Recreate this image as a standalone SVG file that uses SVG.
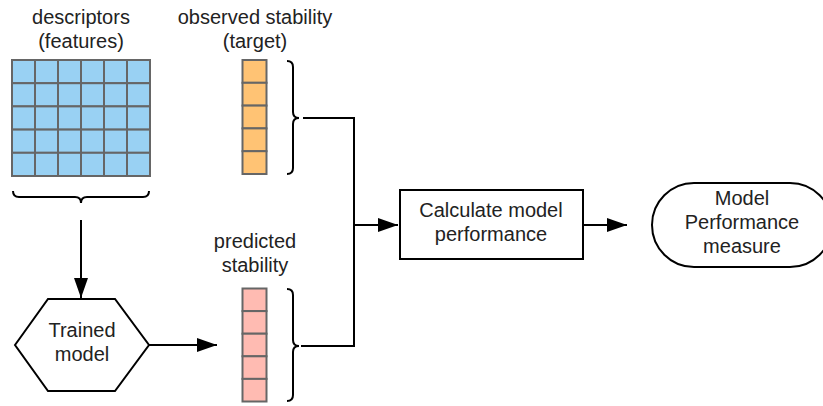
<svg xmlns="http://www.w3.org/2000/svg" width="823" height="406" viewBox="0 0 823 406">
<defs>
<style>
.t{font-family:"Liberation Sans",Arial,sans-serif;font-size:20px;fill:#222;text-anchor:middle}
.cb{fill:#99d1f3;stroke:#666;stroke-width:2}
.co{fill:#ffc374;stroke:#666;stroke-width:2}
.cp{fill:#ffbbb2;stroke:#666;stroke-width:2}
.ln{fill:none;stroke:#000;stroke-width:2}
.sh{fill:#fff;stroke:#000;stroke-width:2}
</style>
<marker id="ah" markerUnits="userSpaceOnUse" markerWidth="20" markerHeight="14" refX="20" refY="7" orient="auto">
<path d="M0,0 L20,7 L0,14 z" fill="#000"/>
</marker>
<pattern id="gb" x="12" y="60" width="23" height="23.2" patternUnits="userSpaceOnUse">
<rect width="23" height="23.2" fill="#99d1f3"/>
</pattern>
</defs>

<g id="descriptors">
<text class="t" x="81" y="24">descriptors</text>
<text class="t" x="81" y="48">(features)</text>
<g class="cb">
<rect x="12" y="60" width="23" height="23.2"/><rect x="35" y="60" width="23" height="23.2"/><rect x="58" y="60" width="23" height="23.2"/><rect x="81" y="60" width="23" height="23.2"/><rect x="104" y="60" width="23" height="23.2"/><rect x="127" y="60" width="23" height="23.2"/>
<rect x="12" y="83.2" width="23" height="23.2"/><rect x="35" y="83.2" width="23" height="23.2"/><rect x="58" y="83.2" width="23" height="23.2"/><rect x="81" y="83.2" width="23" height="23.2"/><rect x="104" y="83.2" width="23" height="23.2"/><rect x="127" y="83.2" width="23" height="23.2"/>
<rect x="12" y="106.4" width="23" height="23.2"/><rect x="35" y="106.4" width="23" height="23.2"/><rect x="58" y="106.4" width="23" height="23.2"/><rect x="81" y="106.4" width="23" height="23.2"/><rect x="104" y="106.4" width="23" height="23.2"/><rect x="127" y="106.4" width="23" height="23.2"/>
<rect x="12" y="129.6" width="23" height="23.2"/><rect x="35" y="129.6" width="23" height="23.2"/><rect x="58" y="129.6" width="23" height="23.2"/><rect x="81" y="129.6" width="23" height="23.2"/><rect x="104" y="129.6" width="23" height="23.2"/><rect x="127" y="129.6" width="23" height="23.2"/>
<rect x="12" y="152.8" width="23" height="23.2"/><rect x="35" y="152.8" width="23" height="23.2"/><rect x="58" y="152.8" width="23" height="23.2"/><rect x="81" y="152.8" width="23" height="23.2"/><rect x="104" y="152.8" width="23" height="23.2"/><rect x="127" y="152.8" width="23" height="23.2"/>
</g>
<path class="ln" d="M13,191 Q13,197 19,197 L75,197 Q81,197 81,203 Q81,197 87,197 L143,197 Q149,197 149,191"/>
</g>

<g id="observed">
<text class="t" x="255" y="24">observed stability</text>
<text class="t" x="255" y="48">(target)</text>
<g class="co">
<rect x="242.5" y="60" width="24" height="22.8"/><rect x="242.5" y="82.8" width="24" height="22.8"/><rect x="242.5" y="105.6" width="24" height="22.8"/><rect x="242.5" y="128.4" width="24" height="22.8"/><rect x="242.5" y="151.2" width="24" height="22.8"/>
</g>
<path class="ln" d="M287,61 Q293,61 293,67 L293,112 Q293,118 299,118 Q293,118 293,124 L293,168 Q293,174 287,174"/>
</g>

<g id="predicted">
<text class="t" x="255" y="248">predicted</text>
<text class="t" x="255" y="272">stability</text>
<g class="cp">
<rect x="242.5" y="288.5" width="24" height="22.6"/><rect x="242.5" y="311.1" width="24" height="22.6"/><rect x="242.5" y="333.7" width="24" height="22.6"/><rect x="242.5" y="356.3" width="24" height="22.6"/><rect x="242.5" y="378.9" width="24" height="22.6"/>
</g>
<path class="ln" d="M287,289 Q293,289 293,295 L293,340 Q293,346 299,346 Q293,346 293,352 L293,395 Q293,401 287,401"/>
</g>

<g id="trained">
<polygon class="sh" points="15,345 48,299 115,299 149,345 115,391 48,391"/>
<text class="t" x="82" y="337">Trained</text>
<text class="t" x="82" y="361">model</text>
</g>

<g id="calc">
<rect class="sh" x="400" y="190" width="183" height="69"/>
<text class="t" x="491" y="217">Calculate model</text>
<text class="t" x="491" y="241">performance</text>
</g>

<g id="measure">
<rect class="sh" x="652" y="183" width="180" height="84" rx="42" ry="42"/>
<text class="t" x="742" y="205">Model</text>
<text class="t" x="742" y="229">Performance</text>
<text class="t" x="742" y="253">measure</text>
</g>

<g id="connectors">
<path class="ln" d="M81,220 L81,298" marker-end="url(#ah)"/>
<path class="ln" d="M149,345 L217,345" marker-end="url(#ah)"/>
<path class="ln" d="M303,118 L354,118 L354,346 L301,346"/>
<path class="ln" d="M354,225 L398,225" marker-end="url(#ah)"/>
<path class="ln" d="M583,225 L627,225" marker-end="url(#ah)"/>
</g>
</svg>
